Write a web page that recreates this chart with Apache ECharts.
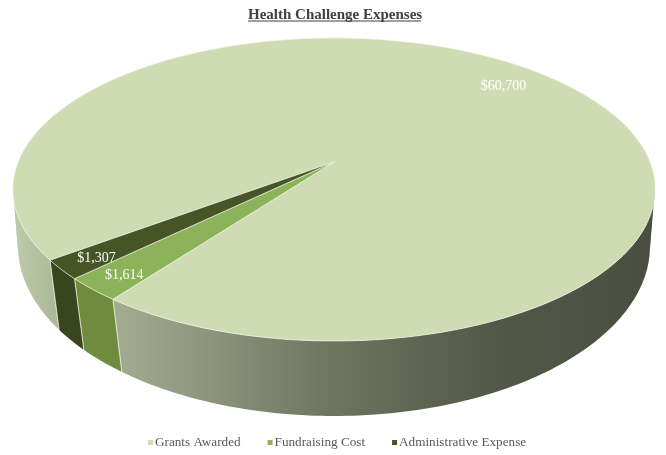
<!DOCTYPE html>
<html>
<head>
<meta charset="utf-8">
<style>html,body{margin:0;padding:0;background:#fff}#c{width:666px;height:455px}</style>
<script src="https://cdn.jsdelivr.net/npm/echarts@6/dist/echarts.min.js"></script>
</head>
<body>
<div id="c"></div>
<script>
var categories = ['Grants Awarded', 'Fundraising Cost', 'Administrative Expense'];
var values = [60700, 1614, 1307];
var valueLabels = ['$60,700', '$1,614', '$1,307'];
var topColors = ['#cfdcb3', '#8db35a', '#475425'];
var firstSliceAngle = 233.3;

var FONT = '"Liberation Serif", serif';
// Perspective model of the pie's top and bottom discs (unit circle -> screen)
var topDisc = { cx: 334, k: 315.7, a: 117.1, b: 162, c: -0.1815 };
var botDisc = { cx: 334, k: 312.5, a: 133.6, b: 220.8, c: -0.148 };
var total = values.reduce(function (s, v) { return s + v; }, 0);

function project(d, deg, r) {
  var t = deg * Math.PI / 180, u = r * Math.sin(t), v = -r * Math.cos(t), w = 1 + d.c * v;
  return [d.cx + d.k * u / w, (d.a * v + d.b) / w];
}
function arc(d, from, to) {
  var n = Math.max(2, Math.ceil(Math.abs(to - from))), pts = [];
  for (var i = 0; i <= n; i++) pts.push(project(d, from + (to - from) * i / n, 1));
  return pts;
}
function grad(stops) {
  return new echarts.graphic.LinearGradient(13, 0, 655, 0, stops, true);
}
var sideFills = [
  grad([
    { offset: 0, color: '#bfcbab' }, { offset: 0.06, color: '#aebb9b' },
    { offset: 0.16, color: '#a3ac91' }, { offset: 0.5, color: '#6e745f' },
    { offset: 0.76, color: '#525746' }, { offset: 1, color: '#4a4e40' }
  ]),
  '#6f8b3e',
  '#38451f'
];
var VIS_FROM = 70, VIS_TO = 290;
var SILHOUETTE = [99.5, 260];   // wall is split here so its outline follows the tangent edge

function sliceRange(idx) {
  var s = firstSliceAngle;
  for (var i = 0; i < idx; i++) s += values[i] / total * 360;
  return [s, s + values[idx] / total * 360];
}
function renderSlice(idx) {
  return function (params, api) {
    var r = sliceRange(idx), start = r[0], end = r[1], children = [];
    var edge = 'rgba(240,244,232,0.85)';
    [0, 360].forEach(function (off) {
      var from = Math.max(start, VIS_FROM + off), to = Math.min(end, VIS_TO + off);
      if (to <= from) return;
      var cuts = [from];
      SILHOUETTE.forEach(function (s) { if (s + off > from && s + off < to) cuts.push(s + off); });
      cuts.push(to);
      for (var i = 0; i + 1 < cuts.length; i++) {
        var a0 = cuts[i] - (i > 0 ? 1 : 0), a1 = cuts[i + 1];
        children.push({
          type: 'polygon',
          shape: { points: arc(topDisc, a0, a1).concat(arc(botDisc, a1, a0)) },
          style: { fill: sideFills[idx] }
        });
      }
      [from, to].forEach(function (a) {
        if (a <= VIS_FROM + off || a >= VIS_TO + off) return;
        var p = project(topDisc, a, 1), q = project(botDisc, a, 1);
        children.push({
          type: 'line', shape: { x1: p[0], y1: p[1], x2: q[0], y2: q[1] },
          style: { stroke: edge, lineWidth: 0.8 }
        });
      });
    });
    // Top face
    var apex = project(topDisc, 0, 0);
    children.push({
      type: 'polygon', shape: { points: [apex].concat(arc(topDisc, start, end)) },
      style: { fill: topColors[idx], stroke: edge, lineWidth: 0.8 }
    });
    // Value label
    var frac = api.value(0) / total, mid = (start + end) / 2;
    var lp = project(topDisc, mid, frac > 0.5 ? 0.84 : 0.885);
    children.push({
      type: 'text', z2: 10,
      style: {
        x: lp[0], y: lp[1] + 2.5, text: valueLabels[idx], fill: '#ffffff',
        font: '14px ' + FONT, align: 'center', verticalAlign: 'middle'
      }
    });
    return { type: 'group', children: children };
  };
}

var chart = echarts.init(document.getElementById('c'), null, { renderer: 'canvas' });
chart.setOption({
  animation: false,
  backgroundColor: '#ffffff',
  title: {
    text: 'Health Challenge Expenses', left: 243, top: 3,
    textStyle: { fontFamily: FONT, fontSize: 15, fontWeight: 'bold', color: '#404040' }
  },
  legend: {
    data: categories, top: 431, left: 143, icon: 'rect',
    itemWidth: 5, itemHeight: 5, itemGap: 27,
    textStyle: { fontFamily: FONT, fontSize: 13.2, color: '#595959', padding: [0, 0, 0, -3] }
  },
  graphic: [{
    type: 'line', shape: { x1: 248, y1: 21, x2: 421, y2: 21 },
    style: { stroke: '#404040', lineWidth: 1 }
  }],
  series: categories.map(function (name, i) {
    return {
      type: 'custom', name: name, coordinateSystem: 'none',
      itemStyle: { color: topColors[i] },
      renderItem: renderSlice(i),
      data: [[values[i]]], silent: true
    };
  })
});
</script>
</body>
</html>
